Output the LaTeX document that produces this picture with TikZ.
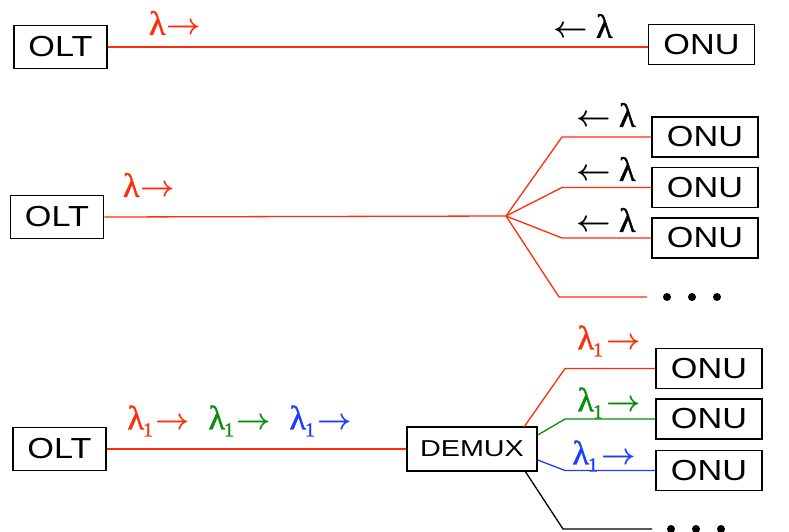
\documentclass[tikz,border=0pt]{standalone}
\usepackage{fix-cm}
\usepackage{fontspec}
\newfontfamily\boxfont[FakeStretch=1.18]{Liberation Sans}
\newfontfamily\demuxfont[FakeStretch=1.25]{Liberation Sans}
\newfontfamily\lamfont[FakeBold=1.2]{Liberation Serif}
\definecolor{lred}{RGB}{255,45,10}
\definecolor{lgreen}{RGB}{10,140,10}
\definecolor{lblue}{RGB}{30,60,255}
\newcommand{\lamG}{{\lamfont\fontsize{34}{34}\selectfont λ}}
\newcommand{\rarr}{{\boldmath$\rightarrow$}}
\newcommand{\larr}{{\boldmath$\leftarrow$}}
\newcommand{\lamR}{\lamG\kern1pt\rarr}
\newcommand{\lamL}{\larr\kern8pt\lamG}
\newcommand{\lamOne}{\lamG\kern-1pt{\lamfont\raisebox{-7pt}{\fontsize{20}{20}\selectfont 1}}\kern3pt\rarr}
\tikzset{
  unit/.style={draw=black, line width=1.5pt, inner sep=0pt, font=\boxfont\fontsize{29}{29}\selectfont},
  olt/.style={unit, minimum width=93pt, minimum height=43pt},
  onu/.style={unit, minimum width=106pt, minimum height=40pt},
  demux/.style={draw=black, line width=1.5pt, inner sep=0pt, minimum width=130pt, minimum height=44pt, font=\demuxfont\fontsize{23}{23}\selectfont},
  fibre/.style={line width=1.3pt},
  lab/.style={inner sep=0pt, font=\fontsize{30}{30}\selectfont},
  dot/.style={circle, fill=black, inner sep=0pt, minimum size=8pt}
}
\begin{document}
\begin{tikzpicture}[x=1pt,y=-1pt]
\useasboundingbox (0,0) rectangle (789,531);
% ---------- row 1 ----------
\node[olt] (olt1) at (60.5,47) {OLT};
\node[onu] (onu1) at (701.5,44.5) {ONU};
\draw[fibre, lred] (olt1.east) -- (olt1.east -| onu1.west);
\node[lab, text=lred] (l1) at (175,23) {\lamR};
\node[lab] (l1b) at (583,26) {\lamL};
% ---------- row 2 ----------
\node[olt] (olt2) at (57,217) {OLT};
\coordinate (split) at (506,216);
\coordinate (bx2) at (562,0);
\node[onu] (onu2a) at (705,137) {ONU};
\node[onu] (onu2b) at (705,187.5) {ONU};
\node[onu] (onu2c) at (705,238) {ONU};
\coordinate (e2d) at (647,297);
\coordinate (b2d) at (559,297);
\draw[fibre, lred] (olt2.east) -- (split);
\draw[fibre, lred] (split) -- (onu2a.west -| bx2) -- (onu2a.west);
\draw[fibre, lred] (split) -- (onu2b.west -| bx2) -- (onu2b.west);
\draw[fibre, lred] (split) -- (onu2c.west -| bx2) -- (onu2c.west);
\draw[fibre, lred] (split) -- (b2d) -- (e2d);
\node[dot] (d21) at (667,297) {};
\node[dot] (d22) at (692,297) {};
\node[dot] (d23) at (717,297) {};
\node[lab, text=lred] (l2) at (149,185) {\lamR};
\node[lab] (l2a) at (606,115) {\lamL};
\node[lab] (l2b) at (606,169) {\lamL};
\node[lab] (l2c) at (606,220) {\lamL};
% ---------- row 3 ----------
\node[olt] (olt3) at (59.5,449) {OLT};
\node[demux] (dmx) at (472,449) {DEMUX};
\coordinate (bx3) at (565,0);
\node[onu] (onu3a) at (709,368.5) {ONU};
\node[onu] (onu3b) at (709,419) {ONU};
\node[onu] (onu3c) at (709,470.5) {ONU};
\coordinate (b3d) at (563,529);
\coordinate (e3d) at (652,529);
\draw[fibre, lred] (olt3.east) -- (dmx.west);
\draw[fibre, lred] (524,427) -- (onu3a.west -| bx3) -- (onu3a.west);
\draw[fibre, lgreen] (dmx.east |- 0,435) -- (onu3b.west -| bx3) -- (onu3b.west);
\draw[fibre, lblue] (dmx.east |- 0,460) -- (onu3c.west -| bx3) -- (onu3c.west);
\draw[fibre, black] (525,471) -- (b3d) -- (e3d);
\node[dot] (d31) at (671,529) {};
\node[dot] (d32) at (696,529) {};
\node[dot] (d33) at (721,529) {};
\node[lab, text=lred] (l3a) at (159,421) {\lamOne};
\node[lab, text=lgreen] (l3b) at (240,421) {\lamOne};
\node[lab, text=lblue] (l3c) at (321,421) {\lamOne};
\node[lab, text=lred] (l3d) at (609,341) {\lamOne};
\node[lab, text=lgreen] (l3e) at (609,403) {\lamOne};
\node[lab, text=lblue] (l3f) at (604,456) {\lamOne};
\end{tikzpicture}
\end{document}
